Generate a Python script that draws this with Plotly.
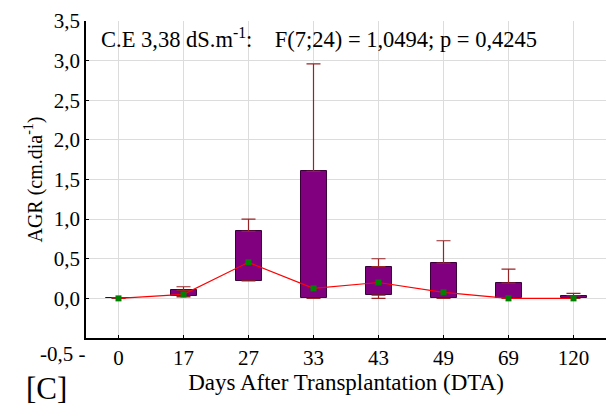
import plotly.graph_objects as go

categories = ["0", "17", "27", "33", "43", "49", "69", "120"]
q1 = [0.0, 0.03, 0.22, 0.0, 0.04, 0.0, 0.0, 0.0]
q3 = [0.01, 0.10, 0.846, 1.603, 0.40, 0.446, 0.193, 0.033]
whisk_max = [0.01, 0.147, 1.0, 2.958, 0.50, 0.727, 0.37, 0.063]
whisk_min = [0.0, 0.02, 0.22, 0.0, 0.0, 0.0, 0.0, 0.0]
center = [0.0, 0.05, 0.455, 0.126, 0.20, 0.076, 0.0, 0.0]
ytick_vals = [0, 0.5, 1.0, 1.5, 2.0, 2.5, 3.0, 3.5]
ytick_text = ["0,0", "0,5", "1,0", "1,5", "2,0", "2,5", "3,0", "3,5"]

serif = "Liberation Serif"
fig = go.Figure()

# upper whiskers
fig.add_trace(go.Scatter(
    x=categories, y=q3, mode="markers", marker=dict(size=1, opacity=0),
    error_y=dict(type="data", symmetric=False,
                 array=[a - b for a, b in zip(whisk_max, q3)],
                 arrayminus=[0] * len(q3), color="#962626", thickness=1.2, width=7),
    showlegend=False, hoverinfo="skip"))
# lower whiskers
fig.add_trace(go.Scatter(
    x=categories, y=q1, mode="markers", marker=dict(size=1, opacity=0),
    error_y=dict(type="data", symmetric=False, array=[0] * len(q1),
                 arrayminus=[a - b for a, b in zip(q1, whisk_min)],
                 color="#962626", thickness=1.2, width=7),
    showlegend=False, hoverinfo="skip"))
# boxes
fig.add_trace(go.Bar(
    x=categories, y=[a - b for a, b in zip(q3, q1)], base=q1, width=0.4,
    marker=dict(color="#800080", line=dict(color="#3a003a", width=1)),
    showlegend=False))
# center line
fig.add_trace(go.Scatter(
    x=categories, y=center, mode="lines+markers",
    line=dict(color="#ff0000", width=1.2),
    marker=dict(symbol="square", size=6, color="#008000"),
    showlegend=False))

fig.update_layout(
    width=608, height=410,
    margin=dict(l=86, r=2, t=21, b=72),
    paper_bgcolor="white", plot_bgcolor="white",
    font=dict(family=serif, size=21, color="black"),
    bargap=0,
    xaxis=dict(type="category", range=[-0.5, 7.5], showgrid=True,
               gridcolor="#dcdcdc", gridwidth=1, showline=True,
               linecolor="black", linewidth=1.5, ticks="inside", ticklen=3,
               tickcolor="black", tickfont=dict(family=serif, size=21),
               title=dict(text="Days After Transplantation (DTA)",
                          font=dict(family=serif, size=23), standoff=4),
               zeroline=False),
    yaxis=dict(range=[-0.5, 3.5], tickvals=ytick_vals, ticktext=ytick_text,
               showgrid=True, gridcolor="#dcdcdc", gridwidth=1,
               showline=True, linecolor="black", linewidth=1.5,
               ticks="inside", ticklen=3, tickcolor="black",
               tickfont=dict(family=serif, size=21),
               title=dict(text="AGR (cm.dia<sup>-1</sup>)",
                          font=dict(family=serif, size=20), standoff=6),
               zeroline=False),
    annotations=[
        dict(text="C.E 3,38 dS.m<sup>-1</sup>:    F(7;24) = 1,0494; p = 0,4245",
             xref="paper", yref="paper", x=0.025, y=0.998, xanchor="left",
             yanchor="top", showarrow=False,
             font=dict(family=serif, size=22.5, color="black")),
        dict(text="-0,5 -", xref="paper", yref="paper", x=0.004, y=-0.052,
             xanchor="right", yanchor="middle", showarrow=False,
             font=dict(family=serif, size=21, color="black")),
        dict(text="[C]", xref="paper", yref="paper", x=-0.12, y=-0.16,
             xanchor="left", yanchor="middle", showarrow=False,
             font=dict(family=serif, size=31, color="black")),
    ],
)

fig.write_html("out.html")
